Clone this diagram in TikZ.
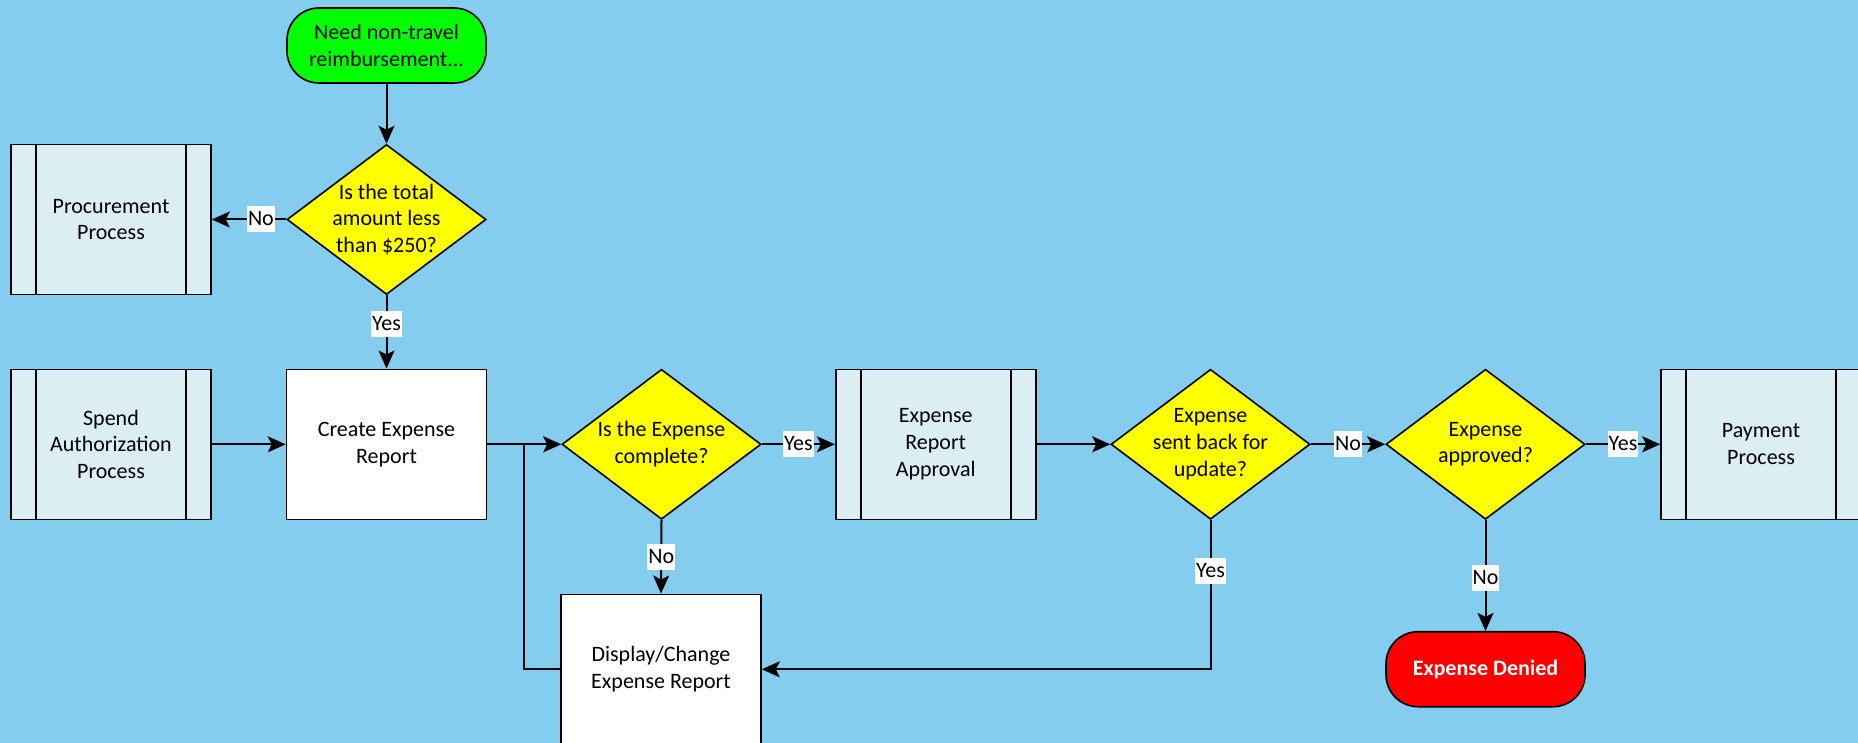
\documentclass[tikz,border=0pt]{standalone}
\usepackage{fontspec}
\setmainfont{Carlito}
\usetikzlibrary{shapes.geometric,arrows.meta}
\definecolor{bgblue}{RGB}{133,205,238}
\definecolor{procfill}{RGB}{218,238,243}
\definecolor{termgreen}{RGB}{0,255,0}
\definecolor{decyellow}{RGB}{255,255,0}
\definecolor{denyred}{RGB}{255,0,0}
\begin{document}
\begin{tikzpicture}[x=1pt,y=-1pt,
  font=\fontsize{22}{26.7}\selectfont,
  every node/.style={align=center},
  term/.style={draw=black, line width=1.6pt, rounded corners=32pt, minimum width=199pt, minimum height=75pt, inner sep=0pt},
  dec/.style={diamond, draw, line width=1.6pt, fill=decyellow, minimum width=199pt, minimum height=150pt, inner sep=0pt},
  dtext/.style={inner sep=0pt},
  proc/.style={draw, line width=1.6pt, fill=procfill, minimum width=200pt, minimum height=150pt, inner sep=0pt,
    path picture={\draw[line width=1.6pt] ([xshift=25pt]path picture bounding box.north west) -- ([xshift=25pt]path picture bounding box.south west);
                  \draw[line width=1.6pt] ([xshift=-25pt]path picture bounding box.north east) -- ([xshift=-25pt]path picture bounding box.south east);}},
  boxw/.style={draw, line width=1.6pt, fill=white, minimum width=200pt, minimum height=150pt, inner sep=0pt},
  conn/.style={line width=2pt, -{Stealth[length=18pt,width=16pt,inset=4pt]}},
  plain/.style={line width=2pt},
  lbl/.style={fill=white, inner xsep=1pt, inner ysep=0.5pt, text height=19pt, text depth=6pt}
]
\path[use as bounding box, fill=bgblue] (0,0) rectangle (1858,743);

% nodes
\node[term, fill=termgreen] (start) at (386.5,45.5) {Need non-travel\\reimbursement...};
\node[dec] (d1) at (386.5,219.5) {};
\node[dtext] (d1t) at (d1.center) {Is the total\\amount less\\than \$250?};
\node[proc] (proc) at (111,219.5) {Procurement\\Process};
\node[proc] (spend) at (111,444.3) {Spend\\Authorization\\Process};
\node[boxw] (create) at (386.5,444.3) {Create Expense\\Report};
\node[dec] (d2) at (661.5,444.3) {};
\node[dtext] (d2t) at (d2.center) {Is the Expense\\complete?};
\node[boxw] (display) at (661,669.3) {Display/Change\\Expense Report};
\node[proc] (era) at (935.7,444.3) {Expense\\Report\\Approval};
\node[dec] (d3) at (1210.5,444.3) {};
\node[dtext] (d3t) at (d3.center) {Expense\\sent back for\\update?};
\node[dec] (d4) at (1485.5,444.3) {};
\node[dtext] (d4t) at (d4.center) {Expense\\approved?};
\node[proc] (pay) at (1761,444.3) {Payment\\Process};
\node[term, fill=denyred, text=white, font=\fontsize{22}{26.7}\selectfont\bfseries] (denied) at (1485.5,669.2) {Expense Denied};
\coordinate (j1) at (524,444.3);

% connectors
\draw[conn] (start.south) -- (d1.north);
\draw[conn] (d1.west) -- node[lbl, pos=0.34] (l1) {No} (proc.east);
\draw[conn] (d1.south) -- node[lbl, pos=0.39] (l2) {Yes} (create.north);
\draw[conn] (spend.east) -- (create.west);
\draw[conn] (create.east) -- (d2.west);
\draw[plain] (display.west) -| (j1);
\draw[conn] (d2.east) -- node[lbl, pos=0.5] (l3) {Yes} (era.west);
\draw[conn] (d2.south) -- node[lbl, pos=0.5] (l4) {No} (display.north);
\draw[conn] (era.east) -- (d3.west);
\draw[conn] (d3.east) -- node[lbl, pos=0.5] (l5) {No} (d4.west);
\draw[conn] (d4.east) -- node[lbl, pos=0.5] (l6) {Yes} (pay.west);
\draw[conn] (d3.south) |- node[lbl, pos=0.17] (l7) {Yes} (display.east);
\draw[conn] (d4.south) -- node[lbl, pos=0.52] (l8) {No} (denied.north);
\end{tikzpicture}
\end{document}
